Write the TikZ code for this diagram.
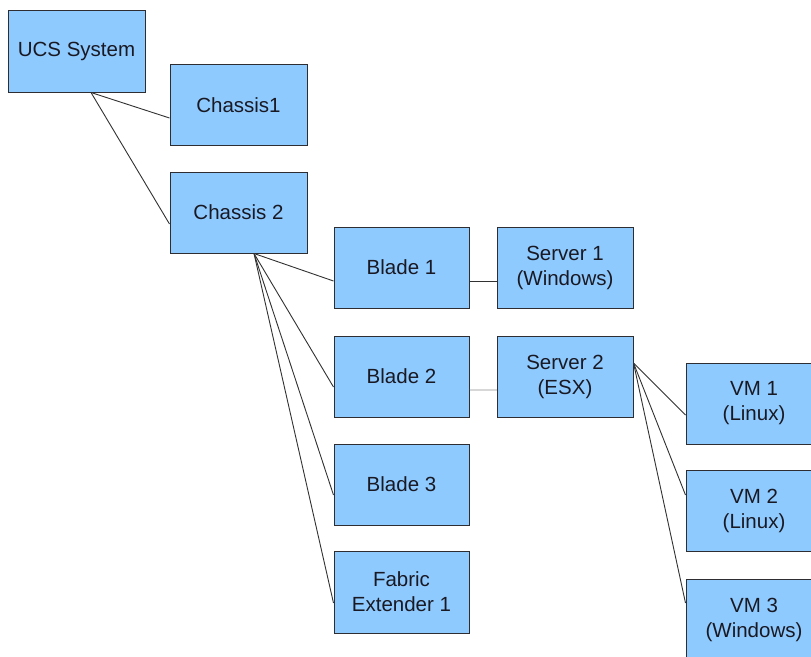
\documentclass[tikz,border=0pt]{standalone}
\usepackage{fontspec}
\setmainfont{Liberation Sans}
\definecolor{boxfill}{RGB}{143,202,255}
\definecolor{boxline}{RGB}{45,45,50}
\definecolor{txt}{RGB}{25,25,35}
\definecolor{conn}{RGB}{50,50,50}
\definecolor{lightconn}{RGB}{215,215,215}
\tikzset{
  unitbox/.style={draw=boxline, fill=boxfill, line width=1pt, inner sep=0pt,
    minimum width=136pt, minimum height=81pt, align=center, text=txt,
    font=\fontsize{20.5}{25}\selectfont},
  link/.style={draw=conn, line width=0.9pt},
  faintlink/.style={draw=lightconn, line width=1.2pt}
}
\begin{document}
\begin{tikzpicture}[x=1pt,y=-1pt]
\useasboundingbox (0,0) rectangle (811,656);
\clip (0,0) rectangle (811,656);
\fill[white] (0,0) rectangle (811,656);

\node[unitbox, minimum width=137pt, minimum height=82pt] (ucs) at (76.5,51) {UCS System};
\node[unitbox, minimum width=137pt] (ch1) at (238.5,105) {Chassis1};
\node[unitbox, minimum width=137pt] (ch2) at (238.5,212.5) {Chassis 2};
\node[unitbox, minimum width=135pt] (b1) at (401.5,267.5) {Blade 1};
\node[unitbox] (s1) at (565,267.5) {Server 1\\(Windows)};
\node[unitbox, minimum width=135pt] (b2) at (401.5,376.5) {Blade 2};
\node[unitbox] (s2) at (565,376.5) {Server 2\\(ESX)};
\node[unitbox, minimum width=135pt] (b3) at (401.5,484.5) {Blade 3};
\node[unitbox, minimum width=135pt, minimum height=82pt] (fe) at (401.5,592) {Fabric\\Extender 1};
\node[unitbox] (vm1) at (754,403.5) {VM 1\\(Linux)};
\node[unitbox] (vm2) at (754,511) {VM 2\\(Linux)};
\node[unitbox] (vm3) at (754,619.5) {VM 3\\(Windows)};

\draw[link] ([xshift=14.5pt]ucs.south) -- ([yshift=-13pt]ch1.west);
\draw[link] ([xshift=14.5pt]ucs.south) -- ([yshift=-11.5pt]ch2.west);

\draw[link] ([xshift=15.5pt]ch2.south) -- ([yshift=-13.5pt]b1.west);
\draw[link] ([xshift=15.5pt]ch2.south) -- ([yshift=-10.5pt]b2.west);
\draw[link] ([xshift=15.5pt]ch2.south) -- ([yshift=-10.5pt]b3.west);
\draw[link] ([xshift=15.5pt]ch2.south) -- ([yshift=-11pt]fe.west);

\draw[link] ([yshift=-13.5pt]b1.east) -- ([yshift=-13.5pt]s1.west);
\draw[faintlink] ([yshift=-13.5pt]b2.east) -- ([yshift=-13.5pt]s2.west);

\draw[link] ([yshift=13.5pt]s2.east) -- ([yshift=-11.5pt]vm1.west);
\draw[link] ([yshift=13.5pt]s2.east) -- ([yshift=16pt]vm2.west);
\draw[link] ([yshift=13.5pt]s2.east) -- ([yshift=16.5pt]vm3.west);
\end{tikzpicture}
\end{document}
